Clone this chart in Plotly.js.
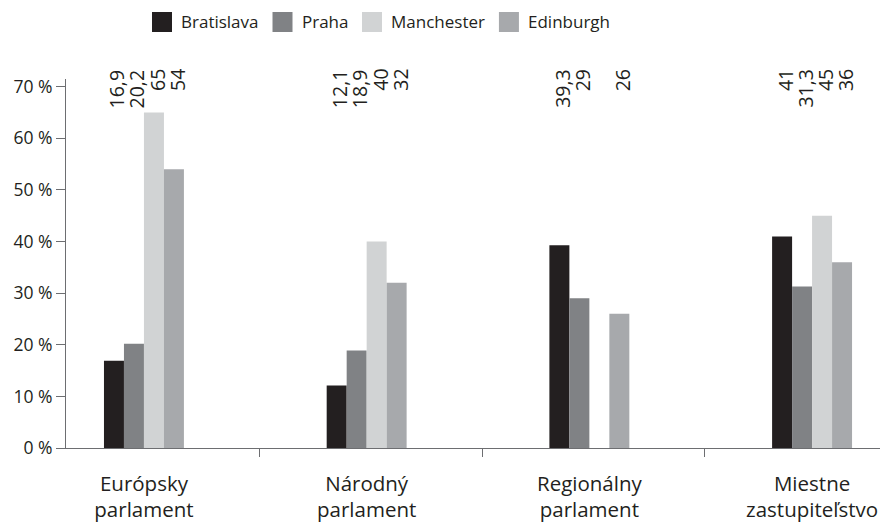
<!DOCTYPE html>
<html>
<head>
<meta charset="utf-8">
<script src="https://cdn.plot.ly/plotly-3.0.1.min.js"></script>
<style>html,body{margin:0;padding:0;background:#fff;}#chart{width:885px;height:526px;}</style>
</head>
<body>
<div id="chart"></div>
<script>
const categories = ["Európsky<br>parlament", "Národný<br>parlament", "Regionálny<br>parlament", "Miestne<br>zastupiteľstvo"];
const seriesNames = ["Bratislava", "Praha", "Manchester", "Edinburgh"];
const bratislava = [16.9, 12.1, 39.3, 41];
const praha = [20.2, 18.9, 29, 31.3];
const manchester = [65, 40, null, 45];
const edinburgh = [54, 32, 26, 36];
const colors = ["#231f20", "#808285", "#d1d3d4", "#a7a9ac"];
const yTicks = [0, 10, 20, 30, 40, 50, 60, 70];

const allSeries = [bratislava, praha, manchester, edinburgh];
const FAMILY = "Open Sans";
const font = "'Open Sans', 'Noto Sans', sans-serif";
const TXT = "#231f20";
const AX = "#6d6e71";

// plot geometry (pixels)
const M = {l: 66, r: 5, t: 79, b: 78};
const W = 885, H = 526;
const PW = W - M.l - M.r, PH = H - M.t - M.b;
const px2x = p => (p - M.l) / PW;
const px2y = p => (H - M.b - p) / PH;

const xRange = [-0.35, 3.305];

const traces = allSeries.map((vals, i) => ({
  type: "bar",
  name: seriesNames[i],
  x: categories,
  y: vals,
  marker: {color: colors[i], line: {width: 0}},
  hoverinfo: "none",
  showlegend: false
}));
// invisible trace to activate the tick-mark overlay axis
traces.push({type: "scatter", x: [0], y: [0], xaxis: "x2", mode: "none", showlegend: false, hoverinfo: "none"});

const offsets = [-27, -7, 13, 33];
const annotations = [];
allSeries.forEach((vals, i) => {
  vals.forEach((v, j) => {
    if (v === null) return;
    annotations.push({
      x: categories[j], xref: "x",
      y: px2y(67), yref: "paper",
      yanchor: "top", xanchor: "center",
      xshift: offsets[i],
      text: String(v).replace(".", ","),
      textangle: -90,
      showarrow: false,
      font: {family: font, size: 19.5, color: TXT}
    });
  });
});

// custom legend (large swatches)
const shapes = [];
const ctx = document.createElement("canvas").getContext("2d");
const legSize = 17;
ctx.font = legSize + "px '" + FAMILY + "'";
let lx = 152;
const sq = 20, sqTop = 12;
seriesNames.forEach((name, i) => {
  shapes.push({
    type: "rect", xref: "paper", yref: "paper", layer: "above",
    x0: px2x(lx), x1: px2x(lx + sq), y0: px2y(sqTop + sq), y1: px2y(sqTop),
    fillcolor: colors[i], line: {width: 0}
  });
  annotations.push({
    x: px2x(lx + sq + 7), xref: "paper", xanchor: "left",
    y: px2y(sqTop + sq / 2), yref: "paper", yanchor: "middle",
    text: name, showarrow: false,
    font: {family: font, size: legSize, color: TXT}
  });
  lx += sq + 9 + ctx.measureText(name).width + 14;
});

const layout = {
  width: W, height: H,
  margin: M,
  paper_bgcolor: "#fff", plot_bgcolor: "#fff",
  barmode: "group",
  bargap: 0.641,
  bargroupgap: 0,
  showlegend: false,
  xaxis: {
    type: "category",
    range: xRange,
    ticks: "outside", ticklen: 8, tickcolor: "rgba(0,0,0,0)",
    showline: true, linecolor: AX, linewidth: 1,
    showgrid: false, zeroline: false,
    tickfont: {family: font, size: 20.5, color: TXT},
    ticklabelstandoff: 9
  },
  xaxis2: {
    overlaying: "x", anchor: "y", side: "bottom",
    type: "linear", range: xRange,
    tickvals: categories.slice(1).map((c, i) => i + 0.5 + 0.018),
    ticks: "outside", ticklen: 8, tickcolor: AX, tickwidth: 1,
    showticklabels: false, showline: false, showgrid: false, zeroline: false
  },
  yaxis: {
    range: [0, 71.5],
    tickvals: yTicks,
    ticktext: yTicks.map(t => t + " %"),
    ticks: "outside", ticklen: 9, tickcolor: AX,
    showline: true, linecolor: AX, linewidth: 1,
    showgrid: false, zeroline: false,
    tickfont: {family: font, size: 17.5, color: TXT}
  },
  annotations: annotations,
  shapes: shapes
};

Plotly.newPlot("chart", traces, layout, {staticPlot: true});
</script>
</body>
</html>
